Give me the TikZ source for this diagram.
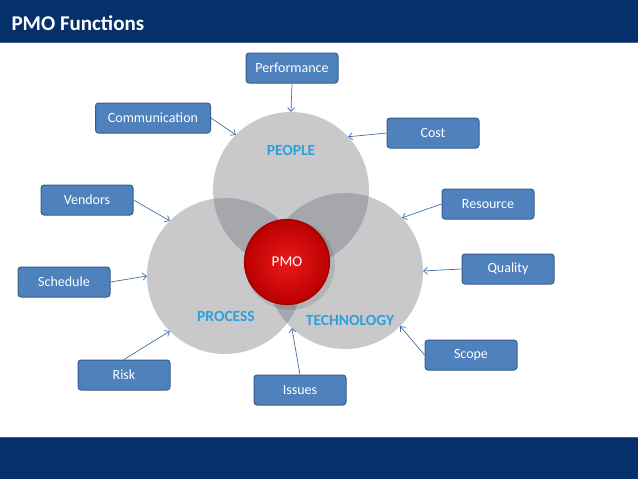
\documentclass[tikz,border=0pt]{standalone}
\usepackage{fontspec}
\setmainfont{Carlito}
\usepackage{xcolor}
\usetikzlibrary{arrows.meta,positioning}
\definecolor{navy}{RGB}{6,48,106}
\definecolor{navyline}{RGB}{62,96,146}
\definecolor{boxblue}{RGB}{79,129,189}
\definecolor{boxedge}{RGB}{56,93,138}
\definecolor{areagray}{RGB}{104,106,112}
\definecolor{areatxt}{RGB}{45,160,220}
\definecolor{pmoin}{RGB}{238,25,25}
\definecolor{pmoout}{RGB}{185,0,0}
\definecolor{pmoedge}{RGB}{160,0,0}
\tikzset{
  area/.style={circle,minimum size=156pt,inner sep=0pt,outer sep=0pt,fill=areagray,fill opacity=0.36},
  areaname/.style={text=areatxt,font=\bfseries\fontsize{15.5}{17}\selectfont},
  func/.style={draw=boxedge,line width=1pt,fill=boxblue,rounded corners=3pt,minimum width=92pt,minimum height=30pt,inner sep=2pt,text=white,font=\fontsize{14}{16}\selectfont},
  link/.style={-{Straight Barb[length=4pt,width=7pt]},draw=boxblue!85!black,line width=0.7pt}
}

\begin{document}
\begin{tikzpicture}[x=1pt,y=-1pt]
\useasboundingbox (0,0) rectangle (638,479);
% bandas
\fill[navy] (0,0) rectangle (638,43);
\draw[navyline,line width=1pt] (0,42.5) -- (638,42.5);
\node[anchor=west,text=white,font=\bfseries\fontsize{21}{24}\selectfont] (title) at (8,23) {PMO Functions};
\fill[navy] (0,437) rectangle (638,479);
\draw[navyline,line width=1pt] (0,437.5) -- (638,437.5);
% circulos
\node[area] (people) at (291,190) {};
\node[area] (process) at (225,276) {};
\node[area] (tech) at (345,271) {};
\node[areaname] (peopletxt) at (291,150) {PEOPLE};
\node[areaname] (processtxt) at (226,316) {PROCESS};
\node[areaname] (techtxt) at (350,320) {TECHNOLOGY};
\fill[black,opacity=0.1] (290,265) circle (45pt);
\node[circle,minimum size=85pt,inner sep=0pt,draw=pmoedge,line width=1.2pt,inner color=pmoin,outer color=pmoout,text=white,font=\fontsize{15}{17}\selectfont] (pmo) at (287,262) {PMO};
% funciones
\node[func] (perf) at (292,68) {Performance};
\node[func,minimum width=115pt] (comm) at (153,118) {Communication};
\node[func] (cost) at (433,133) {Cost};
\node[func] (vend) at (87,200) {Vendors};
\node[func] (res) at (488,204) {Resource};
\node[func] (sched) at (64,282) {Schedule};
\node[func] (qual) at (508,269) {Quality};
\node[func] (scope) at (471,355) {Scope};
\node[func] (risk) at (124,375) {Risk};
\node[func] (issues) at (300,390) {Issues};
% flechas
\draw[link] (perf.south) -- (people.90);
\draw[link] (comm.east) -- (people.135);
\draw[link] (cost.west) -- (people.43);
\draw[link] (vend.east) -- (process.135);
\draw[link] (sched.east) -- (process.180);
\draw[link] (risk.north) -- (process.225);
\draw[link] (issues.north) -- (tech.227);
\draw[link] (res.west) -- (tech.43);
\draw[link] (qual.west) -- (tech.0);
\draw[link] (scope.west) -- (tech.-45);
\end{tikzpicture}
\end{document}
